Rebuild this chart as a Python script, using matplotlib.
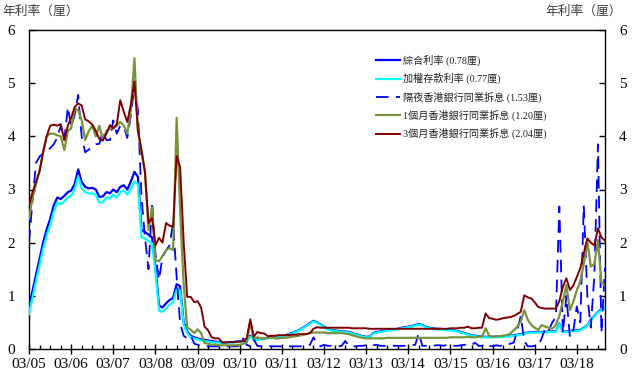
import pandas as pd
import matplotlib
matplotlib.use("Agg")
import matplotlib.pyplot as plt
import matplotlib.dates as mdates

# Datos mensuales, 2005-03 a 2018-11
months = pd.date_range("2005-03-01", periods=165, freq="MS")

composite = [
    0.80, 1.10, 1.40, 1.70, 2.00, 2.25, 2.45, 2.70, 2.85, 2.82,                  # 2005
    2.88, 2.95, 2.98, 3.10, 3.38, 3.14, 3.05, 3.02, 3.03, 3.00, 2.86, 2.87,      # 2006
    2.95, 2.93, 3.00, 2.95, 3.05, 3.08, 3.00, 3.15, 3.33, 3.24, 2.24, 2.20,      # 2007
    2.15, 2.10, 1.55, 0.82, 0.78, 0.86, 0.92, 0.96, 1.22, 1.18, 0.50, 0.33,      # 2008
    0.25, 0.22, 0.20, 0.18, 0.17, 0.16, 0.15, 0.14, 0.13, 0.12, 0.13, 0.13,      # 2009
    0.13, 0.14, 0.15, 0.15, 0.16, 0.25, 0.18, 0.18, 0.19, 0.20, 0.21, 0.22,      # 2010
    0.22, 0.23, 0.24, 0.26, 0.28, 0.30, 0.33, 0.36, 0.40, 0.44, 0.49, 0.53,      # 2011
    0.50, 0.46, 0.42, 0.38, 0.36, 0.35, 0.34, 0.33, 0.33, 0.32, 0.30, 0.28,      # 2012
    0.26, 0.24, 0.23, 0.23, 0.30, 0.32, 0.33, 0.34, 0.35, 0.36, 0.37, 0.38,      # 2013
    0.40, 0.41, 0.42, 0.43, 0.45, 0.47, 0.45, 0.42, 0.40, 0.39, 0.38, 0.38,      # 2014
    0.37, 0.36, 0.36, 0.35, 0.34, 0.32, 0.30, 0.28, 0.26, 0.25, 0.24, 0.23,      # 2015
    0.23, 0.23, 0.23, 0.23, 0.23, 0.24, 0.24, 0.25, 0.26, 0.27, 0.28, 0.30,      # 2016
    0.31, 0.31, 0.32, 0.32, 0.32, 0.32, 0.33, 0.33, 0.33, 0.48, 0.32, 0.33,      # 2017
    0.34, 0.35, 0.35, 0.36, 0.40, 0.45, 0.55, 0.62, 0.70, 0.75, 0.78,            # 2018
]

deposit = [
    0.66, 0.98, 1.28, 1.58, 1.88, 2.13, 2.33, 2.58, 2.75, 2.72,
    2.78, 2.85, 2.88, 3.00, 3.25, 3.02, 2.95, 2.92, 2.93, 2.90, 2.75, 2.76,
    2.85, 2.83, 2.90, 2.85, 2.95, 2.98, 2.90, 3.02, 3.15, 3.10, 2.10, 2.08,
    2.03, 1.98, 1.45, 0.72, 0.70, 0.76, 0.83, 0.88, 1.12, 1.10, 0.45, 0.30,
    0.22, 0.20, 0.18, 0.16, 0.15, 0.14, 0.13, 0.12, 0.12, 0.11, 0.12, 0.12,
    0.12, 0.13, 0.14, 0.14, 0.15, 0.23, 0.17, 0.17, 0.18, 0.19, 0.20, 0.21,
    0.21, 0.22, 0.23, 0.25, 0.27, 0.29, 0.32, 0.35, 0.39, 0.43, 0.48, 0.52,
    0.49, 0.45, 0.41, 0.37, 0.35, 0.34, 0.33, 0.32, 0.32, 0.31, 0.29, 0.27,
    0.25, 0.23, 0.22, 0.22, 0.29, 0.31, 0.32, 0.33, 0.34, 0.35, 0.36, 0.37,
    0.39, 0.40, 0.41, 0.42, 0.44, 0.46, 0.44, 0.41, 0.39, 0.38, 0.37, 0.37,
    0.36, 0.35, 0.35, 0.34, 0.33, 0.31, 0.29, 0.27, 0.25, 0.24, 0.23, 0.22,
    0.22, 0.22, 0.22, 0.22, 0.22, 0.23, 0.23, 0.24, 0.25, 0.26, 0.27, 0.29,
    0.30, 0.30, 0.31, 0.31, 0.31, 0.31, 0.32, 0.32, 0.32, 0.47, 0.31, 0.32,
    0.33, 0.34, 0.34, 0.35, 0.39, 0.44, 0.54, 0.61, 0.69, 0.74, 0.77,
]

hibor_on = [
    2.00, 2.80, 3.50, 3.62, 3.68, 3.72, 3.78, 3.85, 3.97, 4.20,
    3.93, 4.55, 4.18, 4.40, 4.78, 3.99, 3.70, 3.75, 3.80, 3.85, 3.86, 4.10,
    3.93, 3.93, 4.30, 4.05, 4.20, 4.18, 3.97, 4.40, 4.96, 4.50, 2.86, 2.10,
    1.50, 2.77, 1.80, 1.30, 1.73, 1.85, 1.95, 2.37, 1.35, 0.48, 0.25, 0.20,
    0.25, 0.10, 0.08, 0.05, 0.05, 0.05, 0.05, 0.05, 0.05, 0.05, 0.05, 0.05,
    0.05, 0.05, 0.06, 0.20, 0.08, 0.05, 0.18, 0.06, 0.05, 0.05, 0.06, 0.05,
    0.05, 0.05, 0.05, 0.05, 0.05, 0.05, 0.05, 0.05, 0.05, 0.06, 0.08, 0.22,
    0.10, 0.05, 0.08, 0.06, 0.06, 0.05, 0.05, 0.06, 0.15, 0.06, 0.05, 0.05,
    0.06, 0.06, 0.07, 0.06, 0.07, 0.08, 0.06, 0.06, 0.06, 0.07, 0.06, 0.06,
    0.06, 0.06, 0.06, 0.07, 0.08, 0.30, 0.06, 0.06, 0.06, 0.06, 0.07, 0.07,
    0.06, 0.08, 0.06, 0.06, 0.06, 0.07, 0.08, 0.06, 0.07, 0.12, 0.06, 0.06,
    0.10, 0.06, 0.05, 0.07, 0.06, 0.06, 0.07, 0.10, 0.12, 0.35, 0.62, 0.15,
    0.05, 0.05, 0.06, 0.05, 0.20, 0.40, 0.35, 0.50, 0.60, 2.68, 0.30, 1.00,
    0.22, 0.36, 0.80, 0.50, 2.70, 1.00, 0.40, 1.40, 3.85, 0.30, 1.53,
]

hibor_1m = [
    2.45, 2.85, 3.10, 3.35, 3.70, 4.00, 4.05, 4.05, 4.02, 4.00,
    3.74, 4.10, 4.15, 4.52, 4.50, 4.30, 3.93, 4.10, 4.20, 4.00, 4.20, 3.93,
    4.10, 4.15, 4.15, 4.20, 4.27, 4.20, 4.05, 4.50, 5.47, 4.10, 3.70, 3.33,
    2.24, 2.67, 1.67, 1.65, 1.75, 1.86, 1.90, 1.86, 4.35, 2.60, 1.20, 0.41,
    0.36, 0.30, 0.37, 0.30, 0.11, 0.10, 0.08, 0.08, 0.07, 0.07, 0.07, 0.07,
    0.07, 0.07, 0.08, 0.10, 0.12, 0.50, 0.20, 0.22, 0.20, 0.20, 0.21, 0.22,
    0.20, 0.20, 0.21, 0.21, 0.22, 0.23, 0.24, 0.25, 0.27, 0.28, 0.30, 0.31,
    0.31, 0.31, 0.31, 0.30, 0.30, 0.30, 0.30, 0.30, 0.29, 0.28, 0.26, 0.24,
    0.22, 0.21, 0.20, 0.20, 0.20, 0.20, 0.20, 0.20, 0.21, 0.21, 0.21, 0.21,
    0.21, 0.21, 0.21, 0.21, 0.21, 0.21, 0.21, 0.21, 0.21, 0.21, 0.21, 0.21,
    0.21, 0.21, 0.22, 0.22, 0.22, 0.22, 0.22, 0.23, 0.22, 0.22, 0.23, 0.23,
    0.39, 0.25, 0.23, 0.24, 0.24, 0.25, 0.26, 0.29, 0.35, 0.42, 0.52, 0.73,
    0.55, 0.45, 0.40, 0.36, 0.45, 0.42, 0.40, 0.38, 0.45, 0.62, 0.90, 1.20,
    0.73, 0.90, 1.10, 1.27, 1.60, 2.02, 1.55, 1.60, 2.05, 1.24, 1.20,
]

hibor_3m = [
    2.70, 2.95, 3.15, 3.35, 3.70, 4.00, 4.20, 4.22, 4.20, 4.23,
    3.93, 4.20, 4.35, 4.55, 4.62, 4.58, 4.32, 4.28, 4.22, 4.10, 3.95, 3.92,
    4.05, 4.21, 4.15, 4.23, 4.68, 4.46, 4.27, 4.60, 5.03, 4.12, 3.75, 3.33,
    2.37, 2.46, 1.95, 2.09, 2.00, 2.37, 2.32, 2.30, 3.63, 3.42, 2.00, 0.98,
    0.98, 0.88, 0.90, 0.78, 0.42, 0.35, 0.22, 0.20, 0.20, 0.12, 0.12, 0.13,
    0.13, 0.13, 0.14, 0.15, 0.20, 0.56, 0.23, 0.32, 0.30, 0.29, 0.24, 0.25,
    0.25, 0.26, 0.26, 0.26, 0.26, 0.27, 0.27, 0.28, 0.28, 0.28, 0.30, 0.38,
    0.41, 0.40, 0.40, 0.40, 0.40, 0.40, 0.40, 0.40, 0.40, 0.40, 0.39, 0.39,
    0.39, 0.39, 0.39, 0.38, 0.38, 0.38, 0.38, 0.38, 0.38, 0.38, 0.38, 0.38,
    0.38, 0.38, 0.38, 0.38, 0.38, 0.38, 0.38, 0.38, 0.38, 0.38, 0.38, 0.38,
    0.38, 0.38, 0.39, 0.39, 0.39, 0.40, 0.40, 0.42, 0.39, 0.39, 0.40, 0.40,
    0.67, 0.58, 0.57, 0.55, 0.56, 0.58, 0.59, 0.60, 0.62, 0.66, 0.70, 1.01,
    0.97, 0.95, 0.88, 0.79, 0.77, 0.76, 0.76, 0.76, 0.76, 0.90, 1.17, 1.33,
    1.11, 1.20, 1.35, 1.52, 1.80, 2.08, 2.00, 1.95, 2.27, 2.10, 2.04,
]

labels = [
    "綜合利率 (0.78厘)",
    "加權存款利率 (0.77厘)",
    "隔夜香港銀行同業拆息 (1.53厘)",
    "1個月香港銀行同業拆息 (1.20厘)",
    "3個月香港銀行同業拆息 (2.04厘)",
]

cjk = ["Liberation Serif", "Noto Sans CJK TC", "DejaVu Sans"]

fig = plt.figure(figsize=(6.36, 3.75), dpi=100)
ax = fig.add_axes([29 / 636, 26 / 375, 576 / 636, 319 / 375])

ax.plot(months, composite, color="#0000FF", lw=1.6, label=labels[0], zorder=3)
ax.plot(months, deposit, color="#00FFFF", lw=1.6, label=labels[1], zorder=3)
ax.plot(months, hibor_on, color="#0000FF", lw=1.3, dashes=(7, 4), label=labels[2], zorder=4)
ax.plot(months, hibor_1m, color="#77933C", lw=1.6, label=labels[3], zorder=5)
ax.plot(months, hibor_3m, color="#7F0000", lw=1.4, label=labels[4], zorder=6)

ax.set_xlim(months[0], months[-1])
ax.set_ylim(0, 6)
ax.set_yticks(range(0, 7))

ax.xaxis.set_major_locator(mdates.MonthLocator(bymonth=3))
ax.xaxis.set_minor_locator(mdates.MonthLocator(bymonth=[6, 9, 12]))
ax.xaxis.set_major_formatter(mdates.DateFormatter("%m/%y"))

ax.tick_params(axis="x", which="major", direction="inout", length=7, width=1,
               pad=3, labelsize=11)
ax.tick_params(axis="x", which="minor", direction="in", length=3, width=1)
ax.tick_params(axis="y", which="major", direction="in", length=4, width=1,
               left=True, right=True, labelleft=True, labelright=True,
               labelsize=11, pad=10)
for lab in ax.get_xticklabels() + ax.get_yticklabels():
    lab.set_fontfamily("Liberation Serif")
for t in ax.yaxis.get_major_ticks():
    t.label2.set_fontfamily("Liberation Serif")

for s in ax.spines.values():
    s.set_linewidth(1.0)

fig.text(0.004, 0.988, "年利率（厘）", family=["Noto Sans CJK TC", "DejaVu Sans"],
         fontsize=9.2, color="#404040", va="top", ha="left")
fig.text(0.978, 0.988, "年利率（厘）", family=["Noto Sans CJK TC", "DejaVu Sans"],
         fontsize=9.2, color="#404040", va="top", ha="right")

leg = ax.legend(loc="upper left", bbox_to_anchor=(0.595, 0.935), frameon=False,
                prop={"family": cjk, "size": 7.3}, handlelength=2.4,
                handletextpad=0.3, labelspacing=0.7, borderaxespad=0)
for t in leg.get_texts():
    t.set_color("#222222")

fig.savefig("out.png", dpi=100)
